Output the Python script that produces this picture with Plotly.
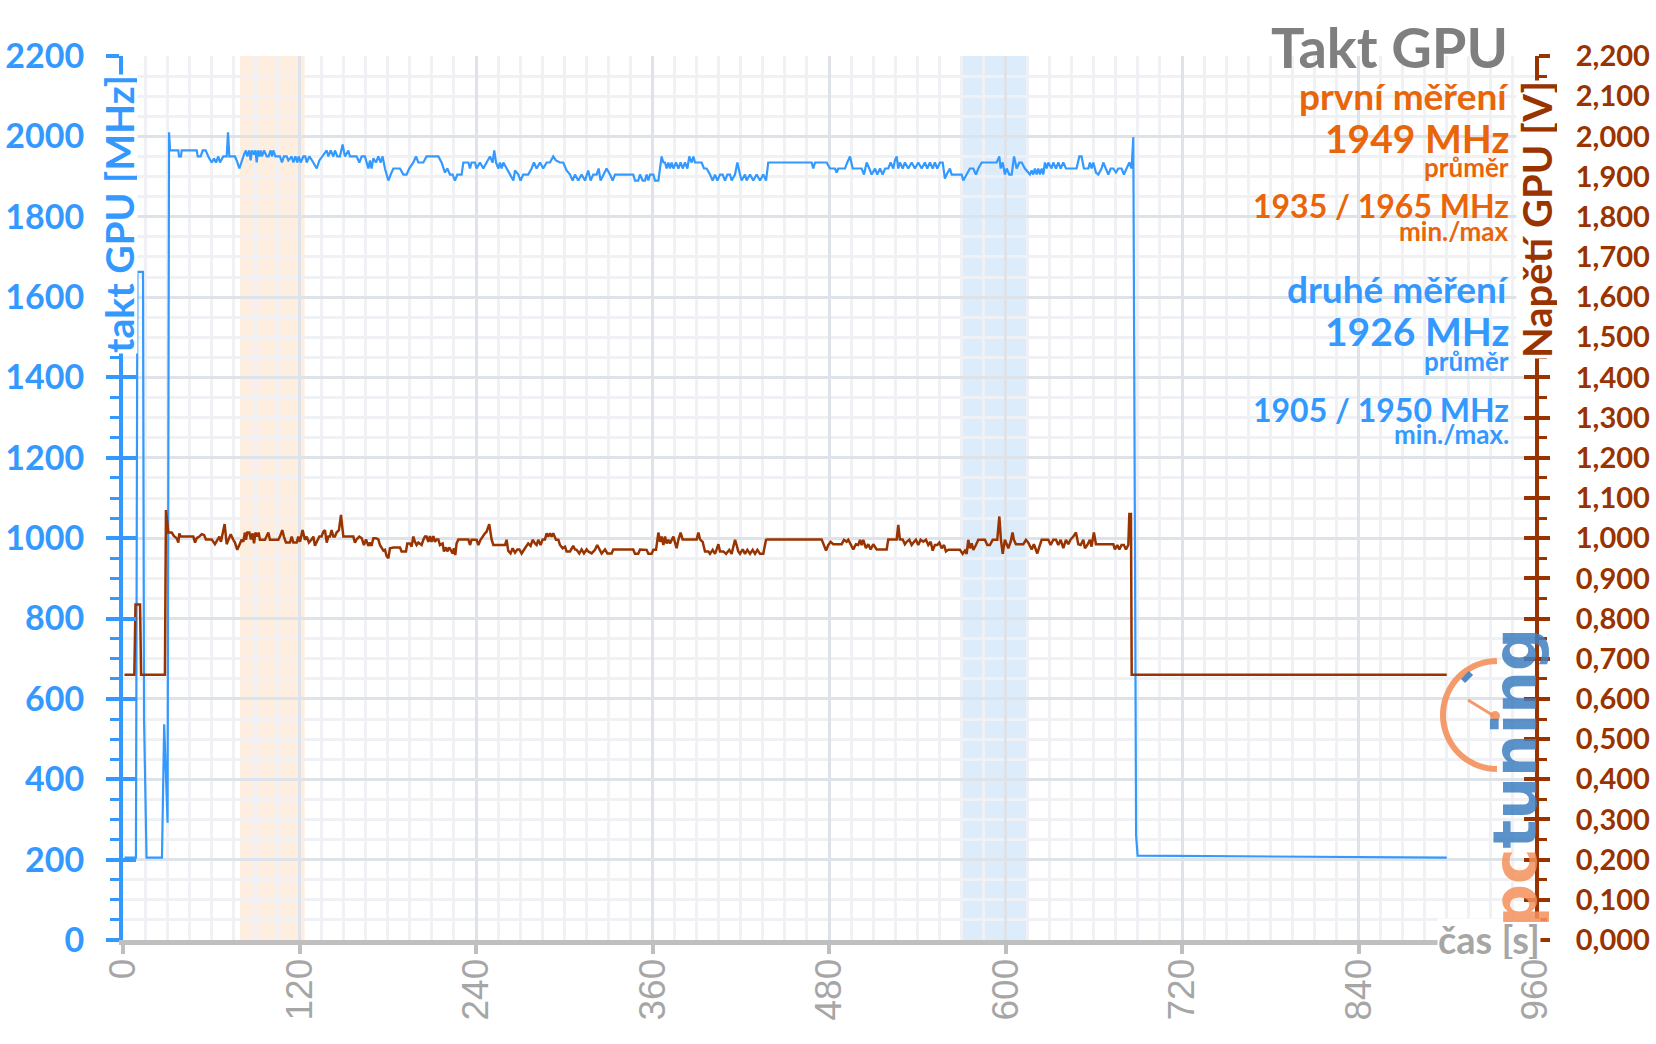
import math
import plotly.graph_objects as go

# ---------------- data ----------------
# GPU clock [MHz] vs time [s]
clock_start = [(1.0, 205), (8.8, 205), (9.8, 1663), (13.6, 1663), (14.3, 552), (16.0, 205),
               (26.5, 205), (28.0, 537), (30.3, 292)]
clock_main = [
    (31.3, 2010), (32.0, 1965), (37.6, 1965), (38.1, 1950), (39.4, 1950), (39.9, 1965), (50.1, 1965),
    (50.8, 1950), (52.8, 1950), (54.2, 1965), (56.2, 1965), (58.0, 1950), (60.3, 1935), (61.9, 1945),
    (63.2, 1935), (64.8, 1950), (65.9, 1935), (68.2, 1950), (70.5, 1950), (71.4, 2010), (72.3, 1950),
    (76.1, 1950), (77.3, 1940), (79.1, 1920), (80.7, 1940), (82.3, 1955), (83.6, 1965), (84.5, 1950),
    (85.9, 1965), (86.8, 1940), (87.7, 1965), (89.1, 1955), (90.0, 1965), (90.9, 1935), (91.8, 1965),
    (92.7, 1950), (93.6, 1965), (94.5, 1950), (95.9, 1965), (97.7, 1950), (99.0, 1950), (100.4, 1965),
    (101.3, 1950), (102.2, 1965), (103.6, 1950), (106.7, 1950), (108.1, 1935), (109.4, 1950),
    (111.3, 1950), (112.4, 1940), (114.7, 1950), (115.8, 1935), (117.2, 1950), (118.5, 1935),
    (119.4, 1950), (120.8, 1935), (122.6, 1950), (123.9, 1950), (124.9, 1935), (126.7, 1950),
    (129.4, 1935), (131.7, 1920), (133.5, 1940), (135.7, 1950), (138.5, 1965), (139.6, 1950),
    (141.2, 1965), (143.0, 1950), (144.1, 1965), (145.7, 1950), (147.5, 1950), (149.3, 1980),
    (150.9, 1950), (153.2, 1965), (154.3, 1950), (158.8, 1950), (160.7, 1935), (162.3, 1950),
    (164.5, 1950), (166.8, 1920), (167.9, 1940), (169.0, 1920), (170.2, 1945), (172.0, 1935),
    (173.6, 1950), (175.2, 1935), (176.5, 1950), (178.1, 1920), (180.4, 1890), (182.0, 1905),
    (183.8, 1920), (188.3, 1920), (190.6, 1905), (192.8, 1905), (194.6, 1920), (197.4, 1935),
    (199.2, 1950), (200.8, 1935), (204.2, 1935), (206.4, 1950), (214.4, 1950), (216.6, 1935),
    (218.9, 1910), (220.5, 1920), (222.3, 1905), (224.1, 1905), (225.7, 1890), (227.3, 1905),
    (230.2, 1905), (231.4, 1935), (234.8, 1935), (235.9, 1920), (237.0, 1935), (239.3, 1935),
    (240.4, 1920), (242.7, 1935), (245.0, 1920), (247.2, 1935), (249.5, 1950), (251.3, 1935),
    (252.4, 1965), (253.6, 1935), (255.2, 1920), (256.3, 1935), (257.4, 1920), (258.6, 1935),
    (260.8, 1920), (263.1, 1905), (265.4, 1890), (266.5, 1915), (268.8, 1905), (270.3, 1890),
    (272.1, 1905), (275.5, 1905), (277.8, 1920), (279.4, 1935), (281.2, 1920), (283.5, 1935),
    (285.7, 1920), (288.0, 1935), (290.3, 1935), (292.5, 1950), (294.3, 1940), (297.1, 1935),
    (299.3, 1935), (301.6, 1915), (303.9, 1905), (305.7, 1890), (307.3, 1905), (309.5, 1890),
    (311.8, 1905), (314.1, 1890), (316.3, 1915), (317.9, 1890), (319.7, 1905), (322.0, 1905),
    (323.4, 1920), (324.7, 1890), (326.5, 1905), (328.8, 1920), (331.1, 1905), (332.9, 1890),
    (334.5, 1905), (346.9, 1905), (348.1, 1890), (350.3, 1890), (351.5, 1905), (353.3, 1890),
    (354.9, 1890), (356.0, 1905), (357.2, 1890), (358.3, 1905), (360.6, 1905), (361.7, 1890),
    (364.0, 1890), (365.1, 1920), (366.2, 1950), (367.4, 1935), (368.5, 1935), (369.6, 1920),
    (370.8, 1935), (371.9, 1920), (373.0, 1935), (374.2, 1920), (376.0, 1935), (377.6, 1920),
    (379.1, 1935), (380.5, 1920), (382.1, 1935), (383.7, 1920), (385.0, 1950), (386.6, 1935),
    (387.8, 1950), (388.9, 1935), (393.4, 1935), (395.0, 1920), (396.8, 1920), (399.1, 1905),
    (400.9, 1890), (402.5, 1905), (404.1, 1890), (405.9, 1905), (407.7, 1905), (409.3, 1890),
    (410.9, 1905), (412.7, 1905), (413.8, 1890), (416.1, 1905), (417.7, 1935), (419.5, 1905),
    (420.6, 1890), (422.9, 1905), (424.0, 1890), (426.3, 1905), (428.5, 1890), (430.8, 1905),
    (433.1, 1890), (435.3, 1905), (437.2, 1890), (438.7, 1935), (441.0, 1935), (468.2, 1935),
    (469.3, 1920), (470.5, 1935), (478.4, 1935), (480.7, 1920), (484.1, 1920), (485.2, 1910),
    (486.3, 1920), (490.9, 1920), (492.4, 1935), (494.3, 1950), (496.1, 1920), (502.2, 1920),
    (503.8, 1905), (505.6, 1935), (507.4, 1920), (509.0, 1905), (511.3, 1920), (512.8, 1905),
    (514.7, 1920), (516.5, 1905), (518.1, 1920), (520.3, 1920), (521.9, 1935), (523.7, 1920),
    (524.8, 1940), (526.0, 1950), (527.1, 1920), (528.2, 1935), (530.1, 1920), (531.6, 1935),
    (533.9, 1920), (536.2, 1935), (538.4, 1920), (540.7, 1935), (543.0, 1920), (545.2, 1935),
    (546.8, 1920), (548.6, 1935), (550.5, 1920), (552.0, 1935), (553.6, 1920), (555.4, 1935),
    (557.3, 1935), (558.8, 1895), (560.0, 1905), (562.2, 1920), (563.4, 1905), (570.2, 1905),
    (571.3, 1890), (573.6, 1905), (575.8, 1920), (578.1, 1920), (579.9, 1905), (581.5, 1920),
    (583.8, 1935), (594.0, 1935), (595.8, 1950), (596.7, 1920), (598.1, 1935), (599.6, 1905),
    (600.8, 1920), (602.6, 1905), (604.2, 1905), (605.8, 1950), (607.6, 1920), (609.4, 1935),
    (611.0, 1935), (613.2, 1920), (615.5, 1910), (616.6, 1905), (617.8, 1915), (618.9, 1905),
    (620.0, 1920), (621.2, 1905), (622.3, 1920), (623.4, 1905), (624.6, 1920), (625.7, 1905),
    (626.8, 1935), (628.0, 1920), (629.1, 1935), (631.3, 1920), (632.5, 1935), (634.3, 1920),
    (635.9, 1935), (637.5, 1920), (639.3, 1935), (641.1, 1920), (642.7, 1920), (648.3, 1920),
    (650.2, 1950), (651.7, 1950), (653.3, 1920), (656.3, 1920), (657.4, 1935), (658.5, 1920),
    (659.7, 1935), (661.5, 1910), (663.1, 1905), (665.3, 1920), (666.5, 1935), (668.3, 1920),
    (669.9, 1905), (671.5, 1920), (673.3, 1920), (675.1, 1910), (676.7, 1920), (678.9, 1920),
    (680.5, 1905), (682.3, 1920), (684.2, 1935), (685.7, 1920)]
clock_end = [(686.9, 1998), (688.8, 260), (689.8, 210), (900.0, 205)]

# GPU voltage [V] vs time [s]
volt_start = [(1.0, 0.660), (7.7, 0.660), (8.5, 0.835), (11.6, 0.835), (12.3, 0.660), (28.5, 0.660)]
volt_main = [
    (29.2, 1.070), (30.8, 1.014), (33.1, 1.014), (34.7, 1.005), (36.5, 1.000), (37.6, 0.989),
    (38.3, 1.012), (39.2, 1.004), (47.8, 1.004), (49.0, 0.989), (50.1, 1.000), (51.9, 1.004),
    (53.5, 1.010), (55.1, 1.008), (56.4, 0.997), (60.3, 0.997), (62.5, 0.985), (64.1, 0.996),
    (65.5, 1.004), (66.6, 0.991), (67.8, 1.012), (69.1, 1.035), (70.5, 0.985), (71.6, 0.997),
    (73.2, 1.010), (75.0, 0.996), (76.1, 0.989), (77.7, 0.971), (79.5, 0.985), (80.7, 0.997),
    (81.8, 0.991), (82.9, 1.014), (83.6, 0.996), (84.5, 1.014), (85.9, 1.014), (87.0, 0.997),
    (88.1, 1.012), (89.1, 0.987), (90.0, 1.014), (91.3, 1.004), (92.2, 1.014), (93.1, 0.996),
    (96.5, 0.996), (98.8, 1.014), (99.9, 0.996), (105.6, 0.996), (106.7, 1.004), (108.3, 1.020),
    (109.4, 1.004), (110.8, 0.989), (113.5, 0.989), (114.7, 1.004), (115.8, 0.989), (118.1, 0.989),
    (119.2, 1.004), (120.3, 0.991), (122.1, 1.020), (123.7, 0.996), (124.9, 1.004), (126.4, 0.989),
    (128.3, 0.997), (129.4, 1.004), (130.5, 0.981), (132.1, 0.996), (133.5, 1.004), (135.0, 1.004),
    (136.2, 1.016), (137.3, 1.020), (138.5, 0.989), (139.6, 1.004), (140.7, 1.004), (141.8, 1.020),
    (143.0, 1.004), (144.1, 1.004), (145.2, 1.014), (146.8, 1.020), (148.2, 1.058), (149.8, 1.004),
    (156.6, 1.004), (157.7, 0.989), (158.8, 0.997), (160.7, 1.004), (162.3, 1.000), (163.8, 0.983),
    (165.2, 0.997), (166.8, 0.981), (167.9, 0.989), (169.0, 0.981), (170.2, 1.000), (172.0, 1.000),
    (173.6, 0.997), (174.7, 0.983), (177.0, 0.969), (178.1, 0.971), (179.2, 0.956), (180.4, 0.950),
    (181.5, 0.975), (183.8, 0.977), (188.3, 0.977), (189.4, 0.967), (192.4, 0.967), (193.3, 0.987),
    (195.1, 0.987), (196.2, 0.979), (197.4, 1.004), (198.5, 0.991), (199.6, 0.983), (200.8, 0.989),
    (201.9, 0.987), (203.0, 0.983), (204.2, 0.996), (205.3, 1.004), (206.4, 1.004), (207.6, 0.991),
    (208.7, 1.005), (209.8, 0.991), (211.0, 1.005), (212.1, 0.991), (213.2, 0.997), (214.4, 0.997),
    (215.5, 0.983), (217.3, 0.987), (218.2, 0.967), (219.6, 0.977), (220.5, 0.967), (221.8, 0.977),
    (222.8, 0.971), (224.1, 0.962), (225.0, 0.975), (225.9, 0.958), (226.8, 0.987), (228.0, 0.997),
    (234.8, 0.997), (235.9, 0.983), (237.0, 0.996), (240.4, 0.996), (241.6, 0.983), (243.1, 0.996),
    (246.1, 1.012), (247.2, 1.016), (249.0, 1.035), (250.6, 0.997), (251.8, 0.983), (259.7, 0.983),
    (260.8, 0.996), (261.9, 0.969), (263.5, 0.962), (264.9, 0.975), (266.5, 0.964), (268.1, 0.972),
    (269.5, 0.972), (271.0, 0.962), (273.3, 0.975), (275.5, 0.987), (277.1, 0.981), (278.5, 0.996),
    (280.1, 0.987), (281.2, 0.983), (282.3, 0.996), (283.9, 0.983), (285.3, 0.997), (286.9, 0.997),
    (288.0, 1.012), (289.1, 1.004), (290.3, 1.012), (291.4, 1.004), (292.5, 1.012), (294.4, 0.996),
    (296.0, 0.996), (297.1, 0.983), (298.9, 0.975), (300.5, 0.979), (301.6, 0.967), (303.9, 0.967),
    (306.1, 0.981), (307.3, 0.972), (308.4, 0.971), (310.2, 0.962), (311.8, 0.972), (313.4, 0.962),
    (315.2, 0.972), (316.3, 0.967), (318.6, 0.962), (320.9, 0.971), (322.4, 0.983), (323.8, 0.971),
    (325.4, 0.962), (327.7, 0.972), (329.3, 0.962), (332.2, 0.962), (333.3, 0.972), (346.9, 0.972),
    (348.1, 0.961), (350.3, 0.961), (351.5, 0.972), (356.0, 0.971), (357.2, 0.961), (359.4, 0.961),
    (360.6, 0.971), (362.4, 0.971), (364.0, 1.014), (365.1, 0.991), (366.2, 1.004), (367.4, 0.983),
    (368.5, 1.004), (369.6, 0.987), (370.8, 0.996), (371.9, 0.987), (373.0, 0.997), (374.2, 1.004),
    (375.3, 0.989), (376.4, 0.975), (377.6, 0.996), (379.1, 1.014), (380.5, 0.997), (390.0, 0.997),
    (391.2, 1.014), (392.3, 0.997), (394.1, 0.991), (395.7, 0.967), (398.0, 0.967), (399.1, 0.961),
    (400.9, 0.971), (402.5, 0.961), (403.6, 0.972), (404.8, 0.985), (405.9, 0.967), (408.2, 0.967),
    (410.0, 0.961), (412.2, 0.971), (413.8, 0.961), (415.0, 0.981), (416.1, 0.996), (417.2, 0.983),
    (418.3, 0.967), (419.5, 0.961), (421.3, 0.972), (422.9, 0.961), (424.5, 0.971), (426.3, 0.961),
    (428.1, 0.971), (429.7, 0.961), (431.3, 0.971), (433.1, 0.961), (435.3, 0.961), (437.2, 0.996),
    (438.1, 0.997), (475.0, 0.997), (476.6, 0.979), (478.0, 0.969), (479.5, 0.983), (481.1, 0.991),
    (482.9, 0.985), (488.6, 0.985), (490.2, 0.996), (492.0, 0.991), (493.1, 0.996), (494.7, 0.983),
    (496.5, 0.972), (498.3, 0.985), (499.9, 0.983), (501.1, 0.996), (502.2, 0.983), (503.3, 0.996),
    (505.1, 0.975), (506.7, 0.985), (508.3, 0.972), (510.1, 0.985), (512.4, 0.972), (519.2, 0.972),
    (520.3, 0.997), (526.0, 0.997), (527.1, 1.033), (528.2, 0.997), (530.1, 0.997), (531.6, 0.985),
    (532.8, 0.991), (534.6, 0.996), (536.2, 0.983), (537.8, 0.991), (539.1, 0.996), (540.7, 0.983),
    (542.3, 0.996), (544.1, 0.991), (545.9, 0.996), (547.5, 0.983), (549.1, 0.991), (550.5, 0.969),
    (552.0, 0.983), (553.6, 0.983), (555.0, 0.989), (556.6, 0.975), (558.2, 0.983), (559.5, 0.967),
    (561.1, 0.971), (569.0, 0.971), (570.9, 0.961), (572.4, 0.969), (573.6, 0.961), (574.7, 0.996),
    (575.8, 0.975), (577.0, 0.987), (578.1, 0.971), (579.9, 0.983), (581.5, 0.996), (586.0, 0.996),
    (587.6, 0.983), (589.4, 0.983), (591.3, 0.996), (594.4, 0.996), (595.8, 1.054), (596.9, 0.996),
    (598.1, 0.961), (599.6, 0.996), (601.9, 0.975), (603.5, 0.991), (604.8, 1.014), (605.7, 0.996),
    (607.1, 0.985), (612.1, 0.985), (613.9, 0.996), (615.5, 0.989), (617.8, 0.972), (619.3, 0.985),
    (620.7, 0.972), (621.6, 0.962), (623.4, 0.983), (624.6, 0.996), (629.1, 0.996), (630.7, 0.983),
    (632.5, 0.996), (634.3, 0.996), (635.9, 0.983), (637.5, 0.996), (639.3, 0.975), (641.1, 0.996),
    (642.7, 0.985), (644.3, 0.997), (646.1, 1.004), (647.9, 1.014), (649.5, 0.985), (651.1, 0.983),
    (652.9, 0.996), (654.0, 0.975), (655.6, 0.983), (657.4, 0.996), (658.5, 0.979), (660.1, 1.014),
    (661.5, 0.985), (673.3, 0.985), (674.4, 0.972), (676.0, 0.983), (677.4, 0.972), (678.9, 0.983),
    (680.5, 0.983), (681.9, 0.972), (683.5, 0.983), (684.2, 1.060), (685.3, 1.060)]
volt_end = [(685.8, 0.660), (900.0, 0.660)]

# highlighted time windows [s]
band_first = (79.5, 123.5)
band_second = (569.7, 614.4)

title_text = "Takt GPU"
first_lines = ["první měření", "1949 MHz", "průměr", "1935 / 1965 MHz", "min./max"]
second_lines = ["druhé měření", "1926 MHz", "průměr", "1905 / 1950 MHz", "min./max."]

# ---------------- styling ----------------
BLUE = "#3399FF"
BROWN = "#993300"
ORANGE = "#E8650A"
GRAYTXT = "#A6A6A6"
LOGO_OR = "#F4915C"
LOGO_BL = "#3F7FC0"
W, H = 1656, 1044
L, R, T, B = 123, 1535, 56, 940  # plot area in pixels


def px(x):
    return (x - L) / (R - L)


def py(y):
    return (B - y) / (B - T)


clock = clock_start + clock_main + clock_end
volt = volt_start + volt_main + volt_end

fig = go.Figure()
fig.add_trace(go.Scatter(x=[p[0] for p in clock], y=[p[1] for p in clock], mode="lines",
                         line=dict(color=BLUE, width=2.2), yaxis="y", hoverinfo="skip"))
fig.add_trace(go.Scatter(x=[p[0] for p in volt], y=[p[1] for p in volt], mode="lines",
                         line=dict(color=BROWN, width=2.5), yaxis="y2", hoverinfo="skip"))
# helper traces so the cross-tick overlay axes are drawn
fig.add_trace(go.Scatter(x=[0], y=[0], yaxis="y3", mode="markers", marker=dict(opacity=0),
                         hoverinfo="skip"))
fig.add_trace(go.Scatter(x=[0], y=[0], yaxis="y4", mode="markers", marker=dict(opacity=0),
                         hoverinfo="skip"))

shapes = [
    dict(type="rect", xref="x", yref="paper", x0=band_first[0], x1=band_first[1], y0=0, y1=1,
         fillcolor="#FDEEDF", line=dict(width=0), layer="below"),
    dict(type="rect", xref="x", yref="paper", x0=band_second[0], x1=band_second[1], y0=0, y1=1,
         fillcolor="#DDECFB", line=dict(width=0), layer="below"),
]

ann = []
ann.append(dict(text=title_text, x=px(1510), y=py(46), xanchor="right", yanchor="middle",
                font=dict(family="Lato", size=56, color="#7F7F7F", weight="bold")))
sizes = [37, 39, 26, 32, 26]
ys1 = [96, 138, 167, 206, 231]
ys2 = [289, 331, 361, 409, 434]
for txt, s, yy in zip(first_lines, sizes, ys1):
    ann.append(dict(text=txt, x=px(1511), y=py(yy), xanchor="right", yanchor="middle",
                    font=dict(family="Lato", size=s, color=ORANGE, weight="bold")))
for txt, s, yy in zip(second_lines, sizes, ys2):
    ann.append(dict(text=txt, x=px(1511), y=py(yy), xanchor="right", yanchor="middle",
                    font=dict(family="Lato", size=s, color=BLUE, weight="bold")))
# axis titles
ann.append(dict(text="takt GPU [MHz]", x=px(119), y=py(214), textangle=-90, xanchor="center",
                yanchor="middle", bgcolor="white", borderpad=0, height=36,
                font=dict(family="Lato", size=39, color=BLUE, weight="bold")))
ann.append(dict(text="Napětí GPU [V]", x=px(1537), y=py(220), textangle=-90, xanchor="center",
                yanchor="middle", bgcolor="white", borderpad=0, height=40,
                font=dict(family="Lato", size=40, color=BROWN, weight="bold")))
ann.append(dict(text="čas [s]", x=px(1541), y=py(939), xanchor="right", yanchor="middle",
                bgcolor="white", borderpad=0, height=40,
                font=dict(family="Lato", size=38, color=GRAYTXT, weight="bold")))
# logo
ann.append(dict(text=f"<span style='color:{LOGO_OR}'>pc</span><span style='color:{LOGO_BL}'>tuning</span>",
                x=px(1515), y=py(778), textangle=-90, xanchor="center", yanchor="middle",
                opacity=0.85, font=dict(family="DejaVu Sans", size=60, weight="bold")))
for a in ann:
    a.setdefault("xref", "paper")
    a.setdefault("yref", "paper")
    a["showarrow"] = False

# gauge of the logo (decoration)
cx, cy, rr = 1497, 715, 54
pts = []
for k in range(0, 37):
    ang = math.radians(90 + k * 5)
    pts.append((px(cx + rr * math.cos(ang)), py(cy - rr * math.sin(ang))))
path = "M " + " L ".join(f"{a:.5f},{b:.5f}" for a, b in pts)
shapes += [
    dict(type="path", path=path, xref="paper", yref="paper", line=dict(color=LOGO_OR, width=6),
         opacity=0.9, layer="above"),
    dict(type="line", xref="paper", yref="paper", x0=px(1468), y0=py(700), x1=px(1494), y1=py(716),
         line=dict(color=LOGO_OR, width=3), opacity=0.9, layer="above"),
    dict(type="circle", xref="paper", yref="paper", x0=px(1490), y0=py(711), x1=px(1500), y1=py(721),
         fillcolor=LOGO_OR, line=dict(width=0), opacity=0.9, layer="above"),
    dict(type="line", xref="paper", yref="paper", x0=px(1463), y0=py(681), x1=px(1471), y1=py(673),
         line=dict(color=LOGO_BL, width=6), opacity=0.9, layer="above"),
]

fig.update_layout(
    width=W, height=H, autosize=False,
    margin=dict(l=L, r=W - R, t=T, b=H - B, pad=0),
    paper_bgcolor="white", plot_bgcolor="white",
    showlegend=False, separators=",.",
    annotations=ann, shapes=shapes,
    xaxis=dict(range=[0, 960], tick0=0, dtick=120, tickangle=-90, ticks="outside", ticklen=9,
               tickwidth=4, tickcolor="#BFBFBF", showline=True, linecolor="#BFBFBF", linewidth=5,
               showgrid=True, gridcolor="#DEE3EA", gridwidth=2.5, zeroline=False,
               minor=dict(dtick=15, showgrid=True, gridcolor="#EFF1F5", gridwidth=2.5),
               tickfont=dict(family="Liberation Sans", size=37, color=GRAYTXT),
               automargin=False, ticklabelstandoff=-10),
    yaxis=dict(range=[0, 2200], tick0=0, dtick=200, tickformat="d", ticks="outside", ticklen=13,
               tickwidth=4, tickcolor=BLUE, showline=True, linecolor=BLUE, linewidth=4,
               showgrid=True, gridcolor="#DEE3EA", gridwidth=2.5, zeroline=False,
               minor=dict(dtick=50, ticks="outside", ticklen=9, tickwidth=3, tickcolor=BLUE,
                          showgrid=True, gridcolor="#EFF1F5", gridwidth=2.5),
               tickfont=dict(family="Lato", size=34, color=BLUE, weight="bold"),
               automargin=False, ticklabelstandoff=15),
    yaxis3=dict(overlaying="y", side="left", range=[0, 2200], tick0=0, dtick=200, ticks="inside",
                ticklen=13, tickwidth=4, tickcolor=BLUE, showticklabels=False, showgrid=False,
                zeroline=False, showline=False, automargin=False),
    yaxis2=dict(overlaying="y", side="right", range=[0, 2.2], tick0=0, dtick=0.1, tickformat=".3f",
                ticks="outside", ticklen=11, tickwidth=4, tickcolor=BROWN, showline=True,
                linecolor=BROWN, linewidth=4, showgrid=False, zeroline=False,
                minor=dict(dtick=0.05, ticks="outside", ticklen=8, tickwidth=3, tickcolor=BROWN,
                           showgrid=False),
                tickfont=dict(family="Lato", size=29, color=BROWN, weight="bold"),
                automargin=False, ticklabelstandoff=20),
    yaxis4=dict(overlaying="y", side="right", range=[0, 2.2], tick0=0, dtick=0.1, ticks="inside",
                ticklen=11, tickwidth=4, tickcolor=BROWN, showticklabels=False, showgrid=False,
                zeroline=False, showline=False, automargin=False),
)

fig.write_html("out.html")
